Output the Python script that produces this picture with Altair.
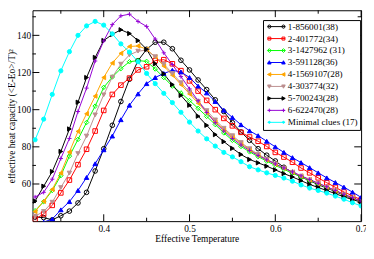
import altair as alt
import pandas as pd
import math

# ---------------- data ----------------
temps = [0.32, 0.33, 0.34, 0.35, 0.36, 0.37, 0.38, 0.39, 0.40, 0.41,
         0.42, 0.43, 0.44, 0.45, 0.46, 0.47, 0.48, 0.49, 0.50, 0.51,
         0.52, 0.53, 0.54, 0.55, 0.56, 0.57, 0.58, 0.59, 0.60, 0.61,
         0.62, 0.63, 0.64, 0.65, 0.66, 0.67, 0.68, 0.69, 0.70]

names = ["1-856001(38)", "2-401772(34)", "3-1427962 (31)", "3-591128(36)",
         "4-1569107(28)", "4-303774(32)", "5-700243(28)", "6-622470(28)",
         "Minimal clues (17)"]

s_1_856001 = [42.2, 41.9, 40.7, 42.9, 45.4, 49.8, 55.5, 67.0, 79.0, 91.6,
              104.4, 116.4, 126.4, 132.5, 136.3, 136.3, 132.8, 126.6, 121.4, 116.0,
              110.8, 105.3, 99.0, 93.0, 88.0, 83.5, 79.0, 75.5, 72.4, 69.0,
              66.2, 63.8, 61.8, 59.6, 57.8, 56.0, 53.9, 52.2, 50.7]
s_2_401772 = [41.1, 43.9, 48.5, 55.2, 62.1, 70.4, 78.7, 88.5, 99.6, 108.2,
              113.2, 117.0, 121.4, 123.1, 126.4, 126.9, 124.7, 121.0, 115.5, 110.0,
              105.0, 100.0, 95.3, 91.3, 87.8, 85.3, 83.0, 80.2, 77.0, 74.5,
              71.7, 68.6, 66.0, 63.3, 60.7, 58.2, 55.7, 53.6, 51.5]
s_3_1427962 = [45.6, 50.5, 56.5, 64.5, 75.0, 84.0, 93.1, 101.9, 112.0, 117.6,
               122.1, 125.8, 126.4, 126.0, 121.9, 117.3, 112.7, 109.0, 104.9, 100.7,
               96.4, 92.0, 87.5, 83.5, 80.2, 77.3, 74.7, 72.3, 70.0, 67.9,
               65.8, 63.8, 61.9, 60.0, 58.1, 56.2, 54.3, 52.4, 50.5]
s_3_591128 = [38.0, 39.5, 41.1, 46.1, 50.5, 56.5, 63.5, 70.9, 78.4, 85.8,
              94.6, 102.4, 108.5, 114.0, 117.3, 119.5, 121.2, 120.3, 117.3, 112.7,
              109.0, 104.4, 99.7, 95.8, 91.9, 88.6, 86.0, 83.0, 80.0, 77.0,
              74.2, 71.5, 68.8, 66.0, 63.3, 60.8, 58.3, 55.6, 52.8]
s_4_1569107 = [45.2, 50.7, 57.1, 65.9, 77.2, 88.3, 97.8, 107.3, 117.3, 125.1,
               130.3, 134.0, 134.3, 132.5, 128.4, 123.5, 118.6, 113.5, 108.5, 103.5,
               98.5, 93.5, 89.2, 85.3, 81.8, 78.5, 75.6, 73.0, 70.7, 68.5,
               66.4, 64.3, 62.3, 60.3, 58.4, 56.4, 54.4, 52.5, 50.6]
s_4_303774 = [42.7, 45.2, 50.2, 58.1, 65.9, 76.4, 85.8, 97.2, 108.0, 117.5,
              124.5, 129.5, 131.5, 132.0, 128.5, 124.5, 119.5, 114.5, 109.5, 104.5,
              99.5, 94.5, 90.0, 86.0, 82.3, 79.0, 76.0, 73.3, 70.8, 68.5,
              66.3, 64.2, 62.2, 60.2, 58.2, 56.3, 54.3, 52.3, 50.3]
s_5_700243 = [50.8, 58.8, 66.7, 77.5, 89.6, 104.0, 117.3, 128.1, 137.2, 140.5,
              143.0, 141.0, 137.2, 132.5, 124.7, 119.3, 113.5, 107.7, 102.4, 96.5,
              91.6, 86.6, 82.8, 79.2, 75.9, 73.2, 71.4, 69.6, 67.6, 65.6,
              63.8, 61.8, 59.8, 58.1, 56.5, 54.8, 53.1, 51.6, 50.2]
s_6_622470 = [53.0, 55.5, 62.6, 73.7, 84.5, 99.0, 111.6, 126.2, 137.0, 145.8,
              150.5, 151.4, 147.5, 144.8, 138.0, 130.6, 124.3, 117.8, 111.2, 104.8,
              98.5, 93.0, 88.5, 84.5, 81.0, 78.0, 75.3, 73.0, 70.8, 68.6,
              66.5, 64.4, 62.4, 60.4, 58.5, 56.5, 54.5, 52.6, 50.8]
s_minimal = [83.8, 94.9, 108.2, 120.9, 131.2, 140.0, 145.1, 147.5, 145.5, 140.8,
             135.4, 131.0, 125.8, 119.5, 114.0, 108.8, 103.8, 98.6, 93.3, 88.5,
             84.3, 80.4, 77.0, 74.6, 72.0, 69.3, 67.6, 66.0, 64.6, 63.2,
             61.5, 59.5, 57.8, 56.5, 55.1, 53.5, 51.8, 49.9, 48.2]

series = [s_1_856001, s_2_401772, s_3_1427962, s_3_591128, s_4_1569107,
          s_4_303774, s_5_700243, s_6_622470, s_minimal]

x_major = [0.4, 0.5, 0.6, 0.7]
x_minor = [0.35, 0.45, 0.55, 0.65]
y_major = [60, 80, 100, 120, 140]
y_minor = [50, 70, 90, 110, 130, 150]

# ---------------- styles ----------------
colors = ["#000000", "#ff0000", "#00ff00", "#0000ff", "#ffa500",
          "#bc8f8f", "#000000", "#9400d3", "#00ffff"]
open_marker = [True, True, True, False, False, False, False, False, False]
fills = ["transparent" if o else c for o, c in zip(open_marker, colors)]
PLUS = "M-1,0L1,0M0,-1L0,1"
marker_shapes = ["circle", "square", "diamond", "triangle-up", "triangle-left",
                 "triangle-down", "triangle-right", PLUS, "circle"]
marker_sizes = [22, 18, 26, 24, 24, 24, 24, 26, 9]


def poly(cx, pts):
    return "M" + " L".join(f"{cx + px:.3f},{py:.3f}" for px, py in pts) + " Z"


def mk(kind, cx):
    if kind in ("circle", "dot"):
        r = 0.55 if kind == "circle" else 0.35
        return poly(cx, [(r * math.cos(a * math.pi / 4), r * math.sin(a * math.pi / 4)) for a in range(8)])
    if kind == "square":
        r = 0.5
        return poly(cx, [(-r, -r), (r, -r), (r, r), (-r, r)])
    if kind == "diamond":
        r = 0.65
        return poly(cx, [(0, -r), (r, 0), (0, r), (-r, 0)])
    if kind == "up":
        return poly(cx, [(0, -0.6), (0.6, 0.5), (-0.6, 0.5)])
    if kind == "down":
        return poly(cx, [(0, 0.6), (0.6, -0.5), (-0.6, -0.5)])
    if kind == "left":
        return poly(cx, [(-0.6, 0), (0.5, -0.6), (0.5, 0.6)])
    if kind == "right":
        return poly(cx, [(0.6, 0), (-0.5, -0.6), (-0.5, 0.6)])
    if kind == "plus":
        return f"M{cx - 0.6:.3f},0L{cx + 0.6:.3f},0M{cx:.3f},-0.6L{cx:.3f},0.6"
    return ""


legend_kinds = ["circle", "square", "diamond", "up", "left", "down", "right", "plus", "dot"]
legend_shapes = ["M-2.95,0L2.95,0 " + mk(k, -2.4) + " " + mk(k, 2.4) for k in legend_kinds]

FONT = "Liberation Serif"
W, H = 335, 215

rows = []
for name, vals in zip(names, series):
    for t, v in zip(temps, vals):
        rows.append({"series": name, "T": t, "C": v})
df = pd.DataFrame(rows)

xs = alt.Scale(domain=[0.317, 0.7], nice=False, zero=False)
ys = alt.Scale(domain=[40, 153.5], nice=False, zero=False)

x_axis = alt.Axis(values=x_major, format=".1f", ticks=False, domain=False, grid=False,
                  labelFont=FONT, labelFontSize=9.5, labelPadding=3, labelColor="black",
                  labelFlush=False, labelOverlap=False,
                  title="Effective Temperature", titleFont=FONT, titleFontSize=9.6,
                  titleFontWeight="normal", titleColor="black", titlePadding=0)
y_axis = alt.Axis(values=y_major, format="d", ticks=False, domain=False, grid=False,
                  labelFont=FONT, labelFontSize=9.5, labelPadding=2, labelColor="black",
                  labelFlush=False, labelOverlap=False,
                  title="effective heat capacity (<E-Eo>/T)\u00b2", titleFont=FONT,
                  titleFontSize=9.6, titleFontWeight="normal", titleColor="black",
                  titlePadding=0)

base = alt.Chart(df)

lines = base.mark_line(strokeWidth=1, clip=True).encode(
    x=alt.X("T:Q", scale=xs, axis=x_axis),
    y=alt.Y("C:Q", scale=ys, axis=y_axis),
    color=alt.Color("series:N", scale=alt.Scale(domain=names, range=colors), legend=None),
    detail="series:N",
)

markers = base.mark_point(opacity=1, strokeWidth=1, clip=True).encode(
    x=alt.X("T:Q", scale=xs, axis=x_axis),
    y=alt.Y("C:Q", scale=ys, axis=y_axis),
    shape=alt.Shape("series:N", scale=alt.Scale(domain=names, range=marker_shapes), legend=None),
    stroke=alt.Stroke("series:N", scale=alt.Scale(domain=names, range=colors), legend=None),
    fill=alt.Fill("series:N", scale=alt.Scale(domain=names, range=fills), legend=None),
    size=alt.Size("series:N", scale=alt.Scale(domain=names, range=marker_sizes), legend=None),
)

leg = alt.Legend(title=None, orient="none", legendX=235, legendY=10,
                 padding=2, strokeColor="black", fillColor="white", cornerRadius=0,
                 labelFont=FONT, labelFontSize=9.3, labelColor="black", labelLimit=300,
                 symbolSize=36, symbolStrokeWidth=1, symbolOpacity=1,
                 rowPadding=2.2, symbolOffset=7, labelOffset=7)

legend_layer = alt.Chart(pd.DataFrame({"series": names})).transform_filter(
    "false"
).mark_point(opacity=1, strokeWidth=1).encode(
    shape=alt.Shape("series:N", scale=alt.Scale(domain=names, range=legend_shapes), legend=leg),
    stroke=alt.Stroke("series:N", scale=alt.Scale(domain=names, range=colors), legend=leg),
    fill=alt.Fill("series:N", scale=alt.Scale(domain=names, range=fills), legend=leg),
)


def tick_layer(vals, axis, side, length):
    if axis == "x":
        d = alt.Chart(pd.DataFrame({"T": vals}))
        if side == "bottom":
            y1, y2 = H, H - length
        else:
            y1, y2 = 0, length
        return d.mark_rule(color="black", strokeWidth=1).encode(
            x=alt.X("T:Q", scale=xs, axis=x_axis), y=alt.value(y1), y2=alt.value(y2))
    else:
        d = alt.Chart(pd.DataFrame({"C": vals}))
        if side == "left":
            x1, x2 = 0, length
        else:
            x1, x2 = W, W - length
        return d.mark_rule(color="black", strokeWidth=1).encode(
            y=alt.Y("C:Q", scale=ys, axis=y_axis), x=alt.value(x1), x2=alt.value(x2))


ticks = [
    tick_layer(x_major, "x", "bottom", 7), tick_layer(x_minor, "x", "bottom", 3.5),
    tick_layer(x_major, "x", "top", 7), tick_layer(x_minor, "x", "top", 3.5),
    tick_layer(y_major, "y", "left", 7), tick_layer(y_minor, "y", "left", 3.5),
    tick_layer(y_major, "y", "right", 7), tick_layer(y_minor, "y", "right", 3.5),
]

chart = alt.layer(lines, *ticks, markers, legend_layer).resolve_scale(
    shape="independent", stroke="independent", fill="independent", size="independent"
).properties(
    width=W, height=H, background="white",
    autosize=alt.AutoSizeParams(type="none"),
    padding={"left": 25, "top": 0, "right": 5, "bottom": 22},
).configure_view(stroke="black", strokeWidth=1)

chart.save("out.html", embed_options={"renderer": "svg", "actions": False})
